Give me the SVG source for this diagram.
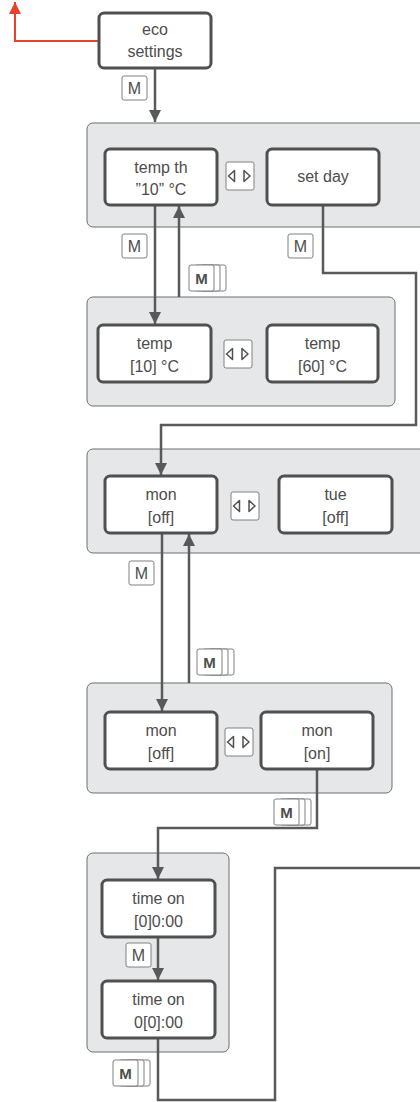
<svg xmlns="http://www.w3.org/2000/svg" width="420" height="1102" viewBox="0 0 420 1102">
<defs>
<style>
.panel{fill:#e6e7e8;stroke:#6d6e70;stroke-width:1}
.node{fill:#fff;stroke:#505050;stroke-width:3}
.t{font-family:"Liberation Sans",Arial,sans-serif;font-size:16px;fill:#4d4d4d;text-anchor:middle}
.badge{fill:#fff;stroke:#808080;stroke-width:1}
.bt{font-family:"Liberation Sans",Arial,sans-serif;font-size:16px;fill:#4d4d4d;text-anchor:middle}
.bb{font-family:"Liberation Sans",Arial,sans-serif;font-size:15px;font-weight:bold;fill:#4d4d4d;text-anchor:middle}
.tri{fill:none;stroke:#505050;stroke-width:1.5;stroke-linejoin:round}
.conn{fill:none;stroke:#58595b;stroke-width:2.5}
.red{fill:none;stroke:#e8412c;stroke-width:2}
</style>
<marker id="ah" markerUnits="userSpaceOnUse" markerWidth="12" markerHeight="14" viewBox="0 0 12 14" refX="12" refY="6" orient="auto">
<path d="M0,0 L12,6 L0,12 Z" fill="#58595b"/>
</marker>
<marker id="ahr" markerUnits="userSpaceOnUse" markerWidth="12" markerHeight="14" viewBox="0 0 12 14" refX="12" refY="6" orient="auto">
<path d="M0,0 L12,6 L0,12 Z" fill="#e8412c"/>
</marker>
<g id="btn">
<rect x="0" y="0" width="28" height="28" rx="2" class="badge"/>
<path class="tri" d="M8.5,8.5 L2.5,14 L8.5,19.5 Z"/>
<path class="tri" d="M18,8.5 L24,14 L18,19.5 Z"/>
</g>
<g id="mb">
<rect x="0" y="0" width="25" height="24" rx="2" class="badge"/>
<text x="12.5" y="18" class="bt">M</text>
</g>
<g id="mm">
<rect x="12" y="0" width="25" height="26" rx="2" class="badge"/>
<rect x="6" y="0" width="25" height="26" rx="2" class="badge"/>
<rect x="0" y="0" width="25" height="26" rx="2" class="badge"/>
<text x="12.5" y="19" class="bb">M</text>
</g>
</defs>
<rect width="420" height="1102" fill="#fff"/>

<g id="panels">
<rect class="panel" x="87" y="123" width="350" height="104" rx="6"/>
<rect class="panel" x="87" y="297" width="308" height="109" rx="6"/>
<rect class="panel" x="87" y="449" width="350" height="104" rx="6"/>
<rect class="panel" x="87" y="683" width="305" height="110" rx="6"/>
<rect class="panel" x="87" y="853" width="142" height="199" rx="6"/>
</g>

<g id="connectors">
<path class="red" d="M99,41 H15 V2" marker-end="url(#ahr)"/>
<path class="conn" d="M155,68 V122" marker-end="url(#ah)"/>
<path class="conn" d="M155,205 V324" marker-end="url(#ah)"/>
<path class="conn" d="M179,297 V206" marker-end="url(#ah)"/>
<path class="conn" d="M323,205 V273 H416 V425 H161 V475" marker-end="url(#ah)"/>
<path class="conn" d="M162,533 V711" marker-end="url(#ah)"/>
<path class="conn" d="M189,683 V534" marker-end="url(#ah)"/>
<path class="conn" d="M317,769 V828 H158 V879" marker-end="url(#ah)"/>
<path class="conn" d="M158,937 V980" marker-end="url(#ah)"/>
<path class="conn" d="M158,1038 V1100 H275 V868 H422"/>
</g>

<g id="eco"><rect class="node" x="99" y="13" width="112" height="55" rx="5"/><text class="t" x="155" y="35">eco</text><text class="t" x="155" y="57">settings</text></g>
<g id="tempth"><rect class="node" x="105" y="149" width="112" height="56" rx="5"/><text class="t" x="161" y="173">temp th</text><text class="t" x="161" y="195">”10” °C</text></g>
<g id="setday"><rect class="node" x="267" y="149" width="112" height="56" rx="5"/><text class="t" x="323" y="182">set day</text></g>
<g id="temp10"><rect class="node" x="98" y="325" width="113" height="57" rx="5"/><text class="t" x="154.5" y="349">temp</text><text class="t" x="154.5" y="372">[10] °C</text></g>
<g id="temp60"><rect class="node" x="267" y="325" width="111" height="57" rx="5"/><text class="t" x="322.5" y="349">temp</text><text class="t" x="322.5" y="372">[60] °C</text></g>
<g id="monoff"><rect class="node" x="105" y="476" width="112" height="57" rx="5"/><text class="t" x="161" y="500">mon</text><text class="t" x="161" y="523">[off]</text></g>
<g id="tueoff"><rect class="node" x="279" y="476" width="113" height="57" rx="5"/><text class="t" x="335.5" y="500">tue</text><text class="t" x="335.5" y="523">[off]</text></g>
<g id="monoff2"><rect class="node" x="105" y="712" width="112" height="57" rx="5"/><text class="t" x="161" y="736">mon</text><text class="t" x="161" y="759">[off]</text></g>
<g id="monon"><rect class="node" x="261" y="712" width="112" height="57" rx="5"/><text class="t" x="317" y="736">mon</text><text class="t" x="317" y="759">[on]</text></g>
<g id="timeon1"><rect class="node" x="102" y="880" width="113" height="57" rx="5"/><text class="t" x="158.5" y="904">time on</text><text class="t" x="158.5" y="927">[0]0:00</text></g>
<g id="timeon2"><rect class="node" x="102" y="981" width="113" height="57" rx="5"/><text class="t" x="158.5" y="1005">time on</text><text class="t" x="158.5" y="1028">0[0]:00</text></g>

<g id="buttons">
<use href="#btn" x="226" y="162"/>
<use href="#btn" x="224" y="340"/>
<use href="#btn" x="231" y="492"/>
<use href="#btn" x="225" y="728"/>
</g>
<g id="mbadges">
<use href="#mb" x="122" y="76"/>
<use href="#mb" x="122" y="234"/>
<use href="#mb" x="288" y="234"/>
<use href="#mb" x="129" y="561"/>
<use href="#mb" x="126" y="943"/>
<use href="#mm" x="189" y="265"/>
<use href="#mm" x="197" y="649"/>
<use href="#mm" x="274" y="799"/>
<use href="#mm" x="113" y="1060"/>
</g>
</svg>
